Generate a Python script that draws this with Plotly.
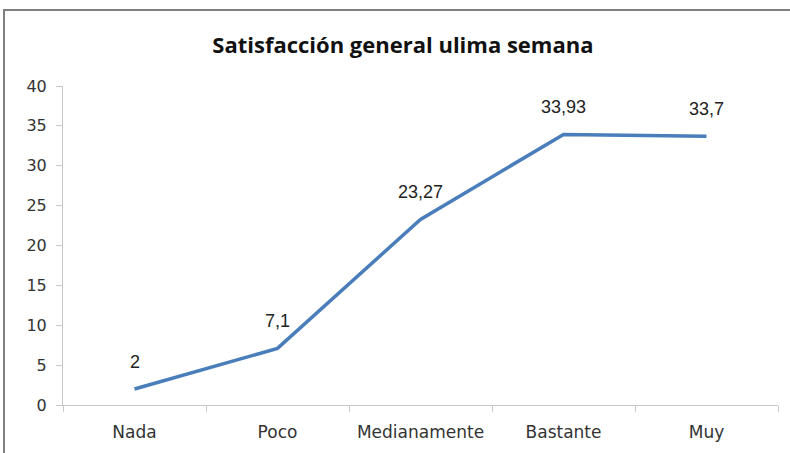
import plotly.graph_objects as go

categories = ["Nada", "Poco", "Medianamente", "Bastante", "Muy"]
values = [2, 7.1, 23.27, 33.93, 33.7]
y_ticks = [0, 5, 10, 15, 20, 25, 30, 35, 40]
title = "Satisfacción general ulima semana"

def fmt(v):
    return ("%g" % v).replace(".", ",")

fig = go.Figure()
fig.add_trace(go.Scatter(
    x=categories, y=values, mode="lines",
    line=dict(color="#4a7ebb", width=3.5),
    hoverinfo="skip",
))

for c, v in zip(categories, values):
    fig.add_annotation(x=c, y=v, text=fmt(v), showarrow=False, yshift=27,
                       font=dict(family="Liberation Sans, Arial, sans-serif", size=18, color="#222"))

fig.add_shape(type="rect", xref="paper", yref="paper",
              x0=-0.0825, x1=1.05, y0=-0.3, y1=1.238,
              line=dict(color="#808080", width=2), fillcolor="rgba(0,0,0,0)", layer="below")

fig.update_layout(
    width=790, height=453,
    margin=dict(l=63, r=12, t=86, b=48),
    paper_bgcolor="white", plot_bgcolor="white",
    showlegend=False,
    title=dict(text="<b>" + title + "</b>", x=0.51, xanchor="center", xref="container",
               y=0.9, yanchor="middle",
               font=dict(family="'Open Sans', sans-serif", size=22, color="#111")),
    xaxis=dict(
        type="category", range=[-0.5, 4.5],
        showline=True, linecolor="#c8c8c8", linewidth=1,
        ticks="outside", tickson="boundaries", ticklen=6, tickcolor="#c8c8c8",
        ticklabelstandoff=12,
        showgrid=False, zeroline=False,
        tickfont=dict(family="DejaVu Sans, sans-serif", size=17, color="#333"),
    ),
    yaxis=dict(
        range=[0, 40], tickvals=y_ticks,
        showline=True, linecolor="#c8c8c8", linewidth=1,
        ticks="outside", ticklen=6, tickcolor="#c8c8c8",
        ticklabelstandoff=6,
        showgrid=False, zeroline=False,
        tickfont=dict(family="DejaVu Sans, sans-serif", size=16, color="#333"),
    ),
)

fig.write_html("out.html", config={"displayModeBar": False},
               post_script="document.body.style.margin='0';")
